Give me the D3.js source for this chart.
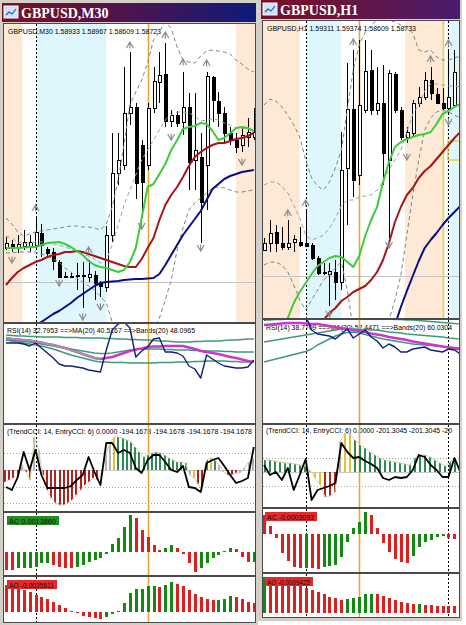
<!DOCTYPE html>
<html>
<head>
<meta charset="utf-8">
<script src="https://d3js.org/d3.v7.min.js"></script>
<style>
body { margin: 0; background: #fff; }
svg { display: block; }
text { font-family: "Liberation Sans", Arial, sans-serif; }
</style>
</head>
<body>
<svg id="chart"></svg>
<script>
// ---------- GBPUSD M30 (left window), prices in pips above 1.5780 ----------
var m30Open  = [37,39,37.5,38,37.5,38.5,44.5,36.5,35,30,23,23,23.5,23,22.5,23.5,19.5,17.5,43.5,74.5,78.5,104.5,107.5,88.5,78.5,107,120,124,100.5,103.5,100,107.5,81,82.5,78.5,122.5,110.5,104.5,94.5,91,88.5,92.5,92.5];
var m30High  = [42.5,41,43.5,46,43.5,52,49,37.5,37,31,25,24.5,29.5,30,31,25.5,20.5,48,94.5,94.5,127.5,135,109.5,91,109.5,127.5,135,139.5,106,105.5,125,114.5,114.5,94.5,125,123,115,107.5,97.5,94.5,97.5,102,107];
var m30Low   = [36,35,34.5,36,35,36,32.5,32.5,26,22,22,22,16,7,20,11,12.5,15,40,68.5,76,98.5,61.5,52,76,104.5,109.5,97.5,97.5,97.5,93.5,66,66,39.5,56,100,97.5,90,88.5,84.5,85,87.5,91];
var m30Close = [39.5,37.5,39,40,40,45,38.5,34.5,30.5,22.5,22.5,22.5,23,23.5,24,19.5,18,43.5,74.5,81,104.5,107.5,69.5,70,107,120.5,123.5,100.5,103.5,99.5,107.5,80,86,60,123,111,104.5,94.5,91,87.5,93.5,95,95];
var m30MaFast = [37,37,37,37.25,37.5,37.5,38.5,39.5,39.75,40,39,37.5,35.5,33.5,30.5,28.5,27.5,27,26,25,26,30,37,52,67.5,69,74,79,86,91,96.5,97.5,98,99.5,99,95.5,91,92,94.5,97,97.5,97,95.5];
var m30MaMid  = [18.5,22,25,27,28.5,30,31,32.5,33.5,34,35,35,35.5,35,34,33,32,31,30,29,28,27.5,27.5,31.5,37,42,51,58.5,63.5,67.5,72.5,78,82.5,85,87,88.5,89.5,89.5,90.5,91.5,92,93,94.5];
var m30MaSlow = [-10.5,-8.5,-7,-5,-3.5,-1.5,0,2,4,5.5,7.5,9.5,12,14,16,18,19.5,20,20.25,20.5,21,21.25,21.5,21.5,21.75,22,24,28.5,33.5,38.5,43.5,47.5,51.5,55.5,61,66.5,69,71.5,73,74,75,75.5,76];
var m30BandUp  = [52,49,45,43,44,45,45.5,46,46.5,47,47.5,48,48,47.5,47.5,47,46,49,57.5,71,88.5,108.5,115,121,129.5,141,145,150,147,137.5,131,130,129.5,133,135.5,136,135.5,135,134,131,129,126.5,125];
var m30BandMid = [43,42,40,39,39.5,40,40,39.5,39,38.5,37.5,36.5,35,34,33,31.5,29.5,31,38.5,48.5,58.5,66,73.5,81,86,91,96,101,103.5,105,105,104.5,103,100.5,101,101.5,101,99.5,98.5,97,97,96.5,96];
var m30BandLow = [34.5,34.5,35,35,35,35,34,33,31.5,30,27,25,22,20,18,16,13,9.5,0,-9,-19,-29,-34,-30,-9,-4,2,11,21,36,47,56,59.5,62,64.5,67,67.5,67,66,65,65,65.5,66];
var m30UpIdx = [5,14,21,27,30,34], m30UpVal = [57,36,138.5,143.5,130,129.5];
var m30DnIdx = [1,9,13,16,23,28,33,40], m30DnVal = [31,19.5,2.5,7.5,48,92.5,37,80];
var m30Sessions = [[-1,2.8,"p"],[5.1,17,"c"],[39,44,"p"]];
var m30PriceLine = 20;
var m30Dashed = [5], m30Orange = [24];

var m30Rsi   = [81,81,81,80,78,81,76,71,66,60,58,58,57,56,54,53,52,74,94,100,102,96,67,73,77,85,86,72,72,71,68,58,55,46,69,65,61,58,57,56,56,57,64];
var m30RsiMa = [86,85,84.5,84,83.5,82.5,81.5,80,79,77.5,76,74,72,70,68,66,65,66,67,69,71,73,74.5,75.5,77,77.5,77.5,78,78,78,78,76.5,75,73,72,71,70,68.5,67,66,64.5,63,62];
var m30BbUp  = [89,88.5,88,88,87.5,87.5,87,87,87,87,86.5,86.5,86.5,86,86,86,86,85.5,85.5,85,85,84.5,84.5,84,84,83.5,83,83,82.5,82,82,82,82.5,82.5,83,83,83,83.5,84,84,84.5,85,85];
var m30BbMid = [84,83.5,83,82.5,82,81,80,79,78,77,76,75,74,73,72,71,70.5,70.5,71,72,73,74,74.5,75,75,75,75,74.5,74.5,74,74,74,73.5,73.5,73,73,73,72.5,72.5,72,72,72,72];
var m30BbLow = [84,83,82,81,80,79,78,76.5,75,73,71,69,67.5,66,64.5,63,62,62,61.5,61.5,61.5,61,61,61,61,61,61.5,61.5,61.5,62,62,62,62.5,62.5,63,63,63,63,62.5,62.5,62,62,62];

var m30CciHist  = [-72,-60,-48,-36,30,-12,-60,198,120,-30,-120,-168,-198,-210,-210,-198,-180,-150,-120,-90,-72,-48,-60,-12,90,162,198,198,192,180,168,138,108,78,90,102,108,102,90,72,60,48,48,42,-30,-48,-84,-120,60,72,60,30,-12,-30,-30,-18,-18,12,48,72];
var m30CciColor = ["r","r","r","r","s","r","r","s","s","r","r","r","r","r","r","r","r","r","r","r","r","r","r","r","s","s","y","g","g","g","g","g","g","g","g","g","g","g","g","g","g","g","g","g","s","y","r","r","g","y","g","s","s","r","r","r","s","s","s","s"];
var m30Cci = [-102,-120,-42,108,0,120,-30,-108,-108,-108,-108,-96,-60,-30,78,-12,-90,162,162,102,120,102,12,-18,60,90,90,48,0,-12,24,-102,-108,-132,42,60,72,24,-30,-78,-66,-48,138];
var m30CciLevels = [100,-100,-200];

// AC / AO in points (0.00001)
var m30AcPrev = -30;
var m30Ac = [-36,-36,-32,-32,-32,-30,-22,-22,-26,-30,-32,-32,-30,-26,-20,-16,-12,-4,16,28,50,74,68,44,30,14,4,8,14,8,-4,-22,-40,-32,-22,-12,-6,2,8,6,-10,-20,-19];
var m30AoPrev = 58;
var m30Ao = [54,50,48,44,40,34,30,26,20,14,8,2,-1,-8,-10,-12,-13,-10,-4,2,18,38,46,46.5,52,52.5,50,54,60,56,52,44,36,30,26,24,24.5,26,32,30,26,20,18];

// ---------- GBPUSD H1 (right window), prices in pips above 1.5800 ----------
var h1Open  = [34,37.5,43,37.5,35.5,38,38,37.5,36.5,30,23,22,23,18,75,104.5,71.5,104,124,104,107.5,79,122,104,90.5,92.5,107.5,110.5,119,112,107.5,105,106.5,109];
var h1High  = [40,49,46.5,45.5,49,41.5,45.5,54,37.5,31,27.5,27.5,29,93,127.5,134,139,139,134,125.5,126.5,124,123,105.5,95.5,109,115.5,123,125.5,115,115,134,134,131.5];
var h1Low   = [34,33,33,34,34,33,35.5,35.5,29,21.5,21.5,6,9,14,46.5,60.5,66.5,102.5,101.5,101.5,66.5,40,102.5,89,87.5,90.5,105.5,109,109,107.5,104,101.5,105.5,106.5];
var h1Close = [37.5,42.5,37.5,35.5,37.5,39.5,36.5,36,30,22.5,22.5,23.5,18,74,104.5,69,106.5,123.5,104,107.5,82.5,122.5,104,90.5,93,107.5,110.5,119,112.5,107.5,105,110.5,123,121.5];
var h1MaFast = [-16,-12.5,-8.5,-4,0,7.5,13,17.5,22,26,28,30,31,30.5,28,25.5,31,41,49,55.5,68,78,85.5,88,89.5,90.5,91.5,92,93,97,102,103.5,105.5,107];
var h1MaMid  = [null,null,null,null,null,null,null,null,-8,-5,-1,2.5,5,8.5,10.5,13,14.5,16,19,23,29,37.5,48,55.5,61.5,65,70,73.5,76,79.5,83,86.5,90,93];
var h1MaSlow = [null,null,null,null,null,null,null,null,null,null,null,null,null,null,null,null,null,null,null,null,null,-13.5,-3.5,5.5,13.5,21,28.5,35,39,42.5,46.5,50,53,56];
var h1BandUp  = [106.5,109.5,108.5,105.5,101.5,96.5,90.5,79,70,66,64,68,75,84,104,124,136.5,143,146.5,149,150,149,148,146.5,145,142.5,134,133,134,130.5,129,129,130,131];
var h1BandMid = [66.5,68,68,66,62.5,56.5,50,41.5,39,40,41.5,45,50,56,59,59,60.5,61,61.5,64,68,74,79,84,93,102,106.5,113.5,117,117,116.5,116,116,115.5];
var h1BandLow = [26.5,28,28,26.5,23,16.5,9,4,9,14,19,21.5,25,28,14,-6,-16,-21,-23.5,-21,-13.5,-1,9,21.5,41.5,61.5,79,94,100,103,104,103,101.5,100];
var h1UpIdx = [4,7,15,28,31], h1UpVal = [52.5,57.5,138,129.5,137.5];
var h1DnIdx = [11,21,24,31], h1DnVal = [2,36.5,80.5,98];
var h1Sessions = [[-1,6,"p"],[7.05,13,"c"],[23.7,30.1,"p"],[30.7,34,"c"]];
var h1PriceLine = 21;
var h1Dashed = [7,31], h1Orange = [16], h1Yellow = [30];
var h1Box = [30.9,33.2,79,88.5];

var h1Rsi   = [98,100,103,104,104,104,104,102,88,84,83,82,79,84,89,80,84,88,81,77,70,74,71,66,66,69,70,71,68,67,66,69,68,64];
var h1RsiMa = [93,93.5,94,94.5,95,95,95,94.5,94,94,93,92,91,90,89,88,87,86,84.5,83.5,82.5,81,80,79,78,76.5,75.5,74.5,73.5,72.5,71.5,70.5,69.5,68.5];
var h1BbUp  = [98,98,98.5,98.5,99,99,99,99.5,99.5,100,100,100,100,100,100,100,99.5,99.5,99.5,99,99,99,98.5,98.5,98,98,97.5,97,96.5,96,95.5,95,94.5,94];
var h1BbMid = [76,77,78,79,80,81,82,83,84,85,86,87,88,89,89,89,88.5,88.5,88,88,87,86,85.5,85,84,83.5,83,82.5,82,81.5,81,80,79.5,79];
var h1BbLow = [56,57.5,59,60.5,62,63.5,65,66.5,69,73,76,79,82,84,85.5,86,85,83.5,82,80.5,79,78,77,76,75,74,73.5,73,72.5,72,71.5,71,70.5,70];

var h1CciHist  = [84,84,77,70,63,63,56,49,42,14,-42,-91,-175,-168,-140,210,273,266,224,189,168,140,119,98,84,77,70,63,56,49,98,119,119,105,84,63,42,70,98];
var h1CciColor = ["g","g","g","g","g","g","g","g","g","s","y","y","r","r","r","s","y","y","g","g","g","g","g","g","g","g","g","g","g","g","g","g","g","g","g","g","g","g","g"];
var h1Cci = [49,-21,0,-56,28,-126,-21,91,-196,-126,-112,-98,-77,203,140,98,105,77,56,28,-42,-56,-35,-42,-35,14,119,105,49,14,-35,-35,98,0];
var h1CciLevels = [100,-100];

var h1AcPrev = 45;
var h1Ac = [38,16,-8,-38,-54,-66,-68,-67,-68,-69,-66,-64,-62,-46,-16,12,24,44,38,12,-18,-36,-50,-56,-58,-44,-26,-16,-12,-6,-4,-8,-9,-12];
var h1AoPrev = 70;
var h1Ao = [73,72,70,68,64,60,54,50,46,42,38,32,30,26,28,30,32,38,38.5,38,34,30,26,22,20,18,18.5,16,15.5,15,14.5,14,13.5,12];

// ---------- drawing ----------
var CYAN = "#dff6fc", PEACH = "#fde9d5";
var HIST = { r: "#b22222", g: "#2e8b57", y: "#e3c22b", s: "#b4b4b4" };
var BAR_UP = "#128a12", BAR_DN = "#dd1f1f";

var svg = d3.select("#chart").attr("width", 466).attr("height", 625);
var defs = svg.append("defs");

function grad(id, stops) {
  var lg = defs.append("linearGradient").attr("id", id).attr("x1", 0).attr("x2", 1).attr("y1", 0).attr("y2", 0);
  stops.forEach(function(s) { lg.append("stop").attr("offset", s[0]).attr("stop-color", s[1]); });
}
grad("titleL", [[0, "#7a1022"], [0.5, "#4c1450"], [1, "#0e1a7a"]]);
grad("titleR", [[0, "#7a1022"], [1, "#4a1c6c"]]);

svg.append("rect").attr("width", 466).attr("height", 625).attr("fill", "#fff");

function windowFrame(fx, fy, fw, fh, t, title, gradId) {
  svg.append("rect").attr("x", fx).attr("y", fy).attr("width", fw).attr("height", fh).attr("fill", "#d4d0c8");
  svg.append("rect").attr("x", t[0]).attr("y", t[1]).attr("width", t[2]).attr("height", t[3]).attr("fill", "url(#" + gradId + ")");
  // little chart icon
  var ix = t[0] + 2, iy = t[1] + 3;
  svg.append("rect").attr("x", ix).attr("y", iy).attr("width", 14).attr("height", 12).attr("fill", "#cfe3f7").attr("stroke", "#f4f8ff");
  svg.append("path").attr("d", "M" + (ix + 2) + "," + (iy + 9) + "l3,-3l3,2l4,-5").attr("fill", "none").attr("stroke", "#2a58b0").attr("stroke-width", 1.2);
  svg.append("text").attr("x", t[0] + 19).attr("y", t[1] + 15).attr("fill", "#fff")
    .style("font-family", "'Liberation Serif', 'Times New Roman', serif").style("font-weight", "bold").style("font-size", "14px").text(title);
}

windowFrame(0, 0, 258, 625, [2, 3, 254, 19], "GBPUSD,M30", "titleL");
windowFrame(258, 0, 204, 621, [261, 0, 199, 19], "GBPUSD,H1", "titleR");

var clipN = 0;
function panel(c, r) {
  var id = "clip" + (clipN++);
  defs.append("clipPath").attr("id", id).append("rect")
    .attr("x", c.x0).attr("y", r[0]).attr("width", c.x1 - c.x0).attr("height", r[1] - r[0]);
  svg.append("rect").attr("x", c.x0).attr("y", r[0]).attr("width", c.x1 - c.x0).attr("height", r[1] - r[0]).attr("fill", "#fff");
  return svg.append("g").attr("clip-path", "url(#" + id + ")");
}

// panel captions sit unclipped, right under the clipped plot layer
function label(g, x, y, txt, len, size) {
  svg.insert("text", function() { return g.node(); })
    .attr("x", x).attr("y", y).attr("font-size", size || 7.6).attr("fill", "#000")
    .attr("textLength", len).attr("lengthAdjust", "spacingAndGlyphs").text(txt);
}

function plot(g, x, y, vals, color, w, dash) {
  var line = d3.line().defined(function(v) { return v != null; })
    .x(function(v, i) { return x(i); }).y(function(v) { return y(v); });
  g.append("path").attr("d", line(vals)).attr("fill", "none").attr("stroke", color)
    .attr("stroke-width", w).attr("stroke-dasharray", dash || null).attr("stroke-linejoin", "round");
}

function vlines(g, x, r, idx, color, w, dash) {
  idx.forEach(function(i) {
    var px = Math.round(x(i)) + 0.5;
    g.append("line").attr("x1", px).attr("x2", px).attr("y1", r[0]).attr("y2", r[1])
      .attr("stroke", color).attr("stroke-width", w).attr("stroke-dasharray", dash || null);
  });
}

function allVlines(g, c, x, r) {
  vlines(g, x, r, c.dashed, "#000", 1, "2,2");
  vlines(g, x, r, c.orange, "#e9a43c", 1.6);
}

function arrows(g, x, y, idx, vals, up) {
  idx.forEach(function(i, k) {
    var px = x(i), py = y(vals[k]);
    var d = up ? "M-3.5,3L0,-3L3.5,3M0,-3L0,3.5" : "M-3.5,-3L0,3L3.5,-3M0,3L0,-3.5";
    g.append("path").attr("transform", "translate(" + px + "," + py + ")").attr("d", d)
      .attr("fill", "none").attr("stroke", "#8c8c8c").attr("stroke-width", 1.2);
  });
}

function colourByChange(vals, prev) {
  var last = prev, col = null;
  return vals.map(function(v) {
    if (v > last) col = BAR_UP; else if (v < last) col = BAR_DN; else col = col || BAR_DN;
    last = v;
    return col;
  });
}

function bars(g, x, y, vals, prev) {
  var cols = colourByChange(vals, prev);
  g.selectAll(null).data(vals).join("rect")
    .attr("x", function(v, i) { return Math.round(x(i)) - 1; })
    .attr("width", 3)
    .attr("y", function(v) { return Math.min(y(v), y(0)); })
    .attr("height", function(v) { return Math.max(1, Math.abs(y(v) - y(0))); })
    .attr("fill", function(v, i) { return cols[i]; })
    .attr("shape-rendering", "crispEdges");
}

function valueBox(g, x, y, w, txt, color) {
  g.append("rect").attr("x", x).attr("y", y).attr("width", w).attr("height", 9).attr("fill", color);
  g.append("text").attr("x", x + 2).attr("y", y + 7.5).attr("font-size", 7.4).attr("fill", "#111")
    .attr("textLength", w - 5).attr("lengthAdjust", "spacingAndGlyphs").text(txt);
}

function drawWindow(c, d) {
  var n = d.open.length;
  var x = d3.scaleLinear().domain([0, n - 1]).range(c.xr);

  // dark border behind the sub-windows
  svg.append("rect").attr("x", c.x0 - 1).attr("y", c.main[0] - 1).attr("width", c.x1 - c.x0 + 2)
    .attr("height", c.ao[1] - c.main[0] + 2).attr("fill", "#4a4a4a");

  // ---- price panel ----
  var gm = panel(c, c.main);
  var y = d3.scaleLinear().domain(c.mainDom).range([c.main[1], c.main[0]]);
  d.sessions.forEach(function(s) {
    gm.append("rect").attr("x", x(s[0])).attr("width", x(s[1]) - x(s[0]))
      .attr("y", c.main[0]).attr("height", c.main[1] - c.main[0]).attr("fill", s[2] === "c" ? CYAN : PEACH);
  });
  gm.append("line").attr("x1", c.x0).attr("x2", c.x1).attr("y1", Math.round(y(d.priceLine)) + 0.5)
    .attr("y2", Math.round(y(d.priceLine)) + 0.5).attr("stroke", "#c4c4c4");
  allVlines(gm, c, x, c.main);
  if (d.yellow) vlines(gm, x, c.main, d.yellow, "#e6d24a", 1.6);
  if (d.box) {
    gm.append("rect").attr("x", x(d.box[0])).attr("y", y(d.box[3])).attr("width", x(d.box[1]) - x(d.box[0]))
      .attr("height", y(d.box[2]) - y(d.box[3])).attr("fill", "none").attr("stroke", "#e8d040").attr("stroke-width", 1.5);
  }
  gm.append("text").attr("x", c.x0 + 4).attr("y", c.main[0] + c.hdr[0]).attr("font-size", 7.6).attr("fill", "#000")
    .attr("textLength", c.hdr[2]).attr("lengthAdjust", "spacingAndGlyphs").text(c.hdr[1]);

  // candles
  var idx = d3.range(n);
  gm.selectAll(null).data(idx).join("line")
    .attr("x1", function(i) { return Math.round(x(i)) + 0.5; })
    .attr("x2", function(i) { return Math.round(x(i)) + 0.5; })
    .attr("y1", function(i) { return y(d.high[i]); })
    .attr("y2", function(i) { return y(d.low[i]); })
    .attr("stroke", "#000").attr("shape-rendering", "crispEdges");
  gm.selectAll(null).data(idx).join("rect")
    .attr("x", function(i) { return Math.round(x(i)) - 1; })
    .attr("width", 3)
    .attr("y", function(i) { return y(Math.max(d.open[i], d.close[i])); })
    .attr("height", function(i) { return Math.max(1, Math.abs(y(d.open[i]) - y(d.close[i]))); })
    .attr("fill", function(i) { return d.close[i] >= d.open[i] ? "#fff" : "#000"; })
    .attr("stroke", "#000").attr("stroke-width", 1).attr("shape-rendering", "crispEdges");

  plot(gm, x, y, d.bandUp, "#6d8f80", 1, "4,3");
  plot(gm, x, y, d.bandMid, "#9aa6a0", 1, "4,3");
  plot(gm, x, y, d.bandLow, "#6d8f80", 1, "4,3");
  plot(gm, x, y, d.maSlow, "#0b0b82", 2);
  plot(gm, x, y, d.maMid, "#a81414", 2);
  plot(gm, x, y, d.maFast, "#3ccc3c", 2);
  arrows(gm, x, y, d.upIdx, d.upVal, true);
  arrows(gm, x, y, d.dnIdx, d.dnVal, false);

  // ---- RSI panel ----
  var gr = panel(c, c.rsi);
  var yr = d3.scaleLinear().domain([0, 100]).range(c.rsiRange);
  label(gr, c.x0 + 3, c.rsi[0] + c.rsiTxt[0], c.rsiTxt[1], c.rsiTxt[2], c.txtSize);
  allVlines(gr, c, x, c.rsi);
  plot(gr, x, yr, d.bbUp, "#3f9a74", 1.4);
  plot(gr, x, yr, d.bbMid, "#3f9a74", 1.4);
  plot(gr, x, yr, d.bbLow, "#3f9a74", 1.4);
  plot(gr, x, yr, d.rsiMa, "#cf36cf", 2.6);
  if (c.greyMa) plot(gr, x, yr, d.rsiMa.slice(0, c.greyMa), "#9a96ac", 2);
  plot(gr, x, yr, d.rsi, "#12207e", 1.4);

  // ---- CCI panel ----
  var gc = panel(c, c.cci);
  var yc = d3.scaleLinear().domain(c.cciDom).range([c.cci[1], c.cci[0]]);
  var xk = d3.scaleLinear().domain([0, d.cciHist.length - 1]).range(c.histXr);
  label(gc, c.x0 + 3, c.cci[0] + c.cciTxt[0], c.cciTxt[1], c.cciTxt[2], c.txtSize);
  gc.append("line").attr("x1", c.x0).attr("x2", c.x1).attr("y1", Math.round(yc(0)) + 0.5).attr("y2", Math.round(yc(0)) + 0.5)
    .attr("stroke", "#c8c8c8");
  d.cciLevels.forEach(function(l) {
    gc.append("line").attr("x1", c.x0).attr("x2", c.x1).attr("y1", Math.round(yc(l)) + 0.5).attr("y2", Math.round(yc(l)) + 0.5)
      .attr("stroke", "#a8a8a8").attr("stroke-dasharray", "1,2");
  });
  allVlines(gc, c, x, c.cci);
  gc.selectAll(null).data(d.cciHist).join("rect")
    .attr("x", function(v, i) { return Math.round(xk(i)) - 1; })
    .attr("width", 2)
    .attr("y", function(v) { return Math.min(yc(v), yc(0)); })
    .attr("height", function(v) { return Math.abs(yc(v) - yc(0)); })
    .attr("fill", function(v, i) { return HIST[d.cciColor[i]]; })
    .attr("shape-rendering", "crispEdges");
  plot(gc, xk, yc, d.cciHist, "#d8cfae", 1);
  plot(gc, x, yc, d.cci, "#000", 1.8);

  // ---- AC panel ----
  var ga = panel(c, c.ac);
  var ya = d3.scaleLinear().domain(c.acDom).range([c.ac[1], c.ac[0]]);
  allVlines(ga, c, x, c.ac);
  bars(ga, x, ya, d.ac, d.acPrev);
  valueBox(ga, c.x0 + c.acBox[0], c.ac[0] + c.acBox[1], c.acBox[2], c.acBox[3], c.acBox[4]);

  // ---- AO panel ----
  var go = panel(c, c.ao);
  var yo = d3.scaleLinear().domain(c.aoDom).range([c.ao[1], c.ao[0]]);
  allVlines(go, c, x, c.ao);
  bars(go, x, yo, d.ao, d.aoPrev);
  valueBox(go, c.x0 + c.aoBox[0], c.ao[0] + c.aoBox[1], c.aoBox[2], c.aoBox[3], c.aoBox[4]);
}

drawWindow({
  x0: 4, x1: 255, xr: [6, 253.8], histXr: [5, 252.8],
  main: [24, 322], rsi: [324, 423], cci: [425, 511], ac: [513, 575], ao: [577, 622],
  mainDom: [0, 149], rsiRange: [424, 324], cciDom: [-246, 270], acDom: [-46, 78], aoDom: [-20, 70],
  dashed: m30Dashed, orange: m30Orange, greyMa: 17, txtSize: 7.6,
  hdr: [10, "GBPUSD,M30  1.58933 1.58967 1.58609 1.58723", 153],
  rsiTxt: [9, "RSI(14) 32.7953  ==>MA(20) 40.5167  ==>Bands(20) 48.0965", 188],
  cciTxt: [9, "(TrendCCI: 14, EntryCCI: 6)  0.0000 -194.1678 -194.1678 -194.1678 -194.1678", 245],
  acBox: [3, 3, 52, "AC  0.0013860", "#1f8f1f"],
  aoBox: [3, 3, 50, "AO  -0.0035611", "#e22a2a"]
}, {
  open: m30Open, high: m30High, low: m30Low, close: m30Close,
  maFast: m30MaFast, maMid: m30MaMid, maSlow: m30MaSlow,
  bandUp: m30BandUp, bandMid: m30BandMid, bandLow: m30BandLow,
  upIdx: m30UpIdx, upVal: m30UpVal, dnIdx: m30DnIdx, dnVal: m30DnVal,
  sessions: m30Sessions, priceLine: m30PriceLine,
  rsi: m30Rsi, rsiMa: m30RsiMa, bbUp: m30BbUp, bbMid: m30BbMid, bbLow: m30BbLow,
  cciHist: m30CciHist, cciColor: m30CciColor, cci: m30Cci, cciLevels: m30CciLevels,
  ac: m30Ac, acPrev: m30AcPrev, ao: m30Ao, aoPrev: m30AoPrev
});

drawWindow({
  x0: 263, x1: 459, xr: [264, 460.4], histXr: [265, 455],
  main: [21, 318], rsi: [320, 423], cci: [425, 507], ac: [509, 572], ao: [574, 617],
  mainDom: [0, 148.5], rsiRange: [418, 318], cciDom: [-245, 329], acDom: [-76, 50], aoDom: [-8, 78],
  dashed: h1Dashed, orange: h1Orange, greyMa: 0, txtSize: 7,
  hdr: [10, "GBPUSD,H1  1.59311 1.59374 1.58609 1.58733", 149],
  rsiTxt: [10, "RSI(14) 38.7709  ==>MA(20) 52.4471  ==>Bands(20) 60.0304", 186],
  cciTxt: [8, "(TrendCCI: 14, EntryCCI: 6)  0.0000 -201.3045 -201.3045 -20", 186],
  acBox: [2, 3, 52, "AC  -0.0003093", "#e22a2a"],
  aoBox: [2, 3, 48, "AO  -0.0009425", "#e22a2a"]
}, {
  open: h1Open, high: h1High, low: h1Low, close: h1Close,
  maFast: h1MaFast, maMid: h1MaMid, maSlow: h1MaSlow,
  bandUp: h1BandUp, bandMid: h1BandMid, bandLow: h1BandLow,
  upIdx: h1UpIdx, upVal: h1UpVal, dnIdx: h1DnIdx, dnVal: h1DnVal,
  sessions: h1Sessions, priceLine: h1PriceLine, yellow: h1Yellow, box: h1Box,
  rsi: h1Rsi, rsiMa: h1RsiMa, bbUp: h1BbUp, bbMid: h1BbMid, bbLow: h1BbLow,
  cciHist: h1CciHist, cciColor: h1CciColor, cci: h1Cci, cciLevels: h1CciLevels,
  ac: h1Ac, acPrev: h1AcPrev, ao: h1Ao, aoPrev: h1AoPrev
});
</script>
</body>
</html>
